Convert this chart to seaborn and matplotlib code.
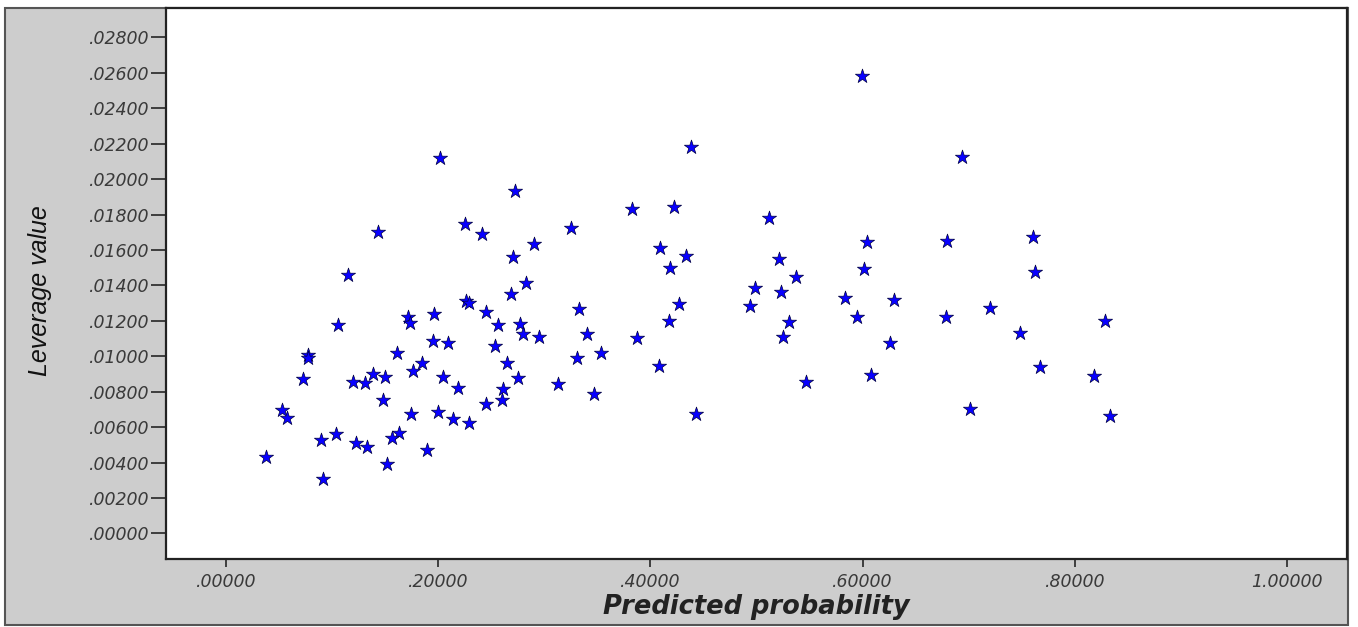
import matplotlib
matplotlib.use("Agg")
import matplotlib.pyplot as plt
from matplotlib.patches import Rectangle
import seaborn as sns
import pandas as pd

# Predicted probability (x) and leverage value (y)
predicted_probability = [
    0.5994, 0.2016, 0.4381, 0.6936, 0.2723, 0.3825, 0.4220, 0.5115, 0.3250, 0.2256,
    0.1429, 0.2412, 0.2902, 0.4089, 0.6041, 0.6795, 0.7605, 0.2707, 0.4334, 0.5210,
    0.4189, 0.6013, 0.7621, 0.1147, 0.5376, 0.2823, 0.2682, 0.4990, 0.5228, 0.5831,
    0.6293, 0.2260, 0.2290, 0.4270, 0.4936, 0.7197, 0.3323, 0.2447, 0.1717, 0.1957,
    0.4176, 0.5947, 0.6789, 0.8287, 0.1733, 0.1058, 0.2560, 0.2770, 0.5304, 0.7480,
    0.2801, 0.3398, 0.2949, 0.3869, 0.5250, 0.1947, 0.2094, 0.6262, 0.2537, 0.1608,
    0.3533, 0.3304, 0.0775, 0.0775, 0.1844, 0.2650, 0.4082, 0.1765, 0.7675, 0.0723,
    0.1388, 0.6083, 0.8180, 0.1498, 0.1199, 0.1309, 0.2047, 0.2748, 0.5464, 0.3131,
    0.2188, 0.2612, 0.1482, 0.3470, 0.2597, 0.2449, 0.0525, 0.0572, 0.1743, 0.2000,
    0.4428, 0.7016, 0.8328, 0.2136, 0.2289, 0.1036, 0.0892, 0.1630, 0.1561, 0.1225,
    0.1325, 0.1891, 0.0377, 0.1514, 0.0911,
]
leverage_value = [
    0.02582, 0.02121, 0.02180, 0.02127, 0.01935, 0.01829, 0.01844, 0.01779, 0.01726, 0.01744,
    0.01703, 0.01688, 0.01635, 0.01613, 0.01647, 0.01652, 0.01675, 0.01562, 0.01567, 0.01547,
    0.01496, 0.01492, 0.01477, 0.01459, 0.01446, 0.01415, 0.01351, 0.01385, 0.01361, 0.01330,
    0.01317, 0.01310, 0.01300, 0.01296, 0.01283, 0.01270, 0.01268, 0.01251, 0.01220, 0.01237,
    0.01200, 0.01220, 0.01220, 0.01199, 0.01186, 0.01174, 0.01178, 0.01184, 0.01191, 0.01133,
    0.01125, 0.01124, 0.01110, 0.01101, 0.01110, 0.01088, 0.01073, 0.01076, 0.01058, 0.01020,
    0.01020, 0.00992, 0.01007, 0.00988, 0.00963, 0.00960, 0.00946, 0.00918, 0.00937, 0.00871,
    0.00900, 0.00894, 0.00890, 0.00881, 0.00856, 0.00850, 0.00884, 0.00875, 0.00856, 0.00841,
    0.00819, 0.00815, 0.00753, 0.00785, 0.00753, 0.00728, 0.00696, 0.00653, 0.00674, 0.00687,
    0.00672, 0.00704, 0.00664, 0.00644, 0.00625, 0.00561, 0.00527, 0.00568, 0.00540, 0.00508,
    0.00489, 0.00470, 0.00433, 0.00391, 0.00307,
]

x_ticks = [0.0, 0.2, 0.4, 0.6, 0.8, 1.0]
x_tick_labels = [".00000", ".20000", ".40000", ".60000", ".80000", "1.00000"]
y_ticks = [0.000, 0.002, 0.004, 0.006, 0.008, 0.010, 0.012, 0.014,
           0.016, 0.018, 0.020, 0.022, 0.024, 0.026, 0.028]
y_tick_labels = [".00000", ".00200", ".00400", ".00600", ".00800", ".01000", ".01200",
                 ".01400", ".01600", ".01800", ".02000", ".02200", ".02400", ".02600", ".02800"]

sns.set_style("white")
plt.rcParams["font.family"] = ["DejaVu Sans"]

df = pd.DataFrame({"Predicted probability": predicted_probability,
                   "Leverage value": leverage_value})

W, H = 1358, 627
fig = plt.figure(figsize=(W / 100, H / 100), dpi=100)
fig.patch.set_facecolor("white")
# grey chart panel (behind the axes)
panel = Rectangle((5 / W, (H - 625) / H), (1348 - 5) / W, (625 - 8) / H,
                  transform=fig.transFigure, facecolor="#cdcdcd",
                  edgecolor="#555555", linewidth=1.5, zorder=-10)
fig.patches.append(panel)

ax = fig.add_axes([166 / W, (H - 558.7) / H, (1346.7 - 166) / W, (558.7 - 7.5) / H])
ax.set_zorder(1)
ax.set_facecolor("white")

sns.scatterplot(data=df, x="Predicted probability", y="Leverage value", ax=ax,
                marker="*", s=115, color="#0800ff", edgecolor="#000040",
                linewidth=0.5, legend=False, zorder=3)

ax.set_xlim(-0.0566, 1.0563)
ax.set_ylim(-0.00143, 0.02969)
ax.set_xticks(x_ticks)
ax.set_xticklabels(x_tick_labels)
ax.set_yticks(y_ticks)
ax.set_yticklabels(y_tick_labels)

for s in ax.spines.values():
    s.set_color("#222222")
    s.set_linewidth(1.6)

ax.tick_params(axis="y", direction="out", length=11, width=1.3, color="#333333",
               pad=1, labelsize=12.5, labelcolor="#3a3a3a", left=True)
ax.tick_params(axis="x", direction="out", length=6, width=1.3, color="#333333",
               pad=4, labelsize=12.5, labelcolor="#3a3a3a", bottom=True)
for lab in ax.get_xticklabels() + ax.get_yticklabels():
    lab.set_fontstyle("italic")

ax.set_xlabel("Predicted probability", fontsize=18.5, fontweight="bold",
              fontstyle="italic", color="#222222")
ax.xaxis.set_label_coords(0.5, -0.087)
ax.set_ylabel("Leverage value", fontsize=18, fontstyle="italic", color="#111111",
              family=["Liberation Sans", "DejaVu Sans"])
ax.yaxis.set_label_coords(-0.1067, 0.486)
ax.yaxis.label.set_verticalalignment("center")
ax.xaxis.label.set_verticalalignment("center")

fig.savefig("out.png", dpi=100, facecolor=fig.get_facecolor())
